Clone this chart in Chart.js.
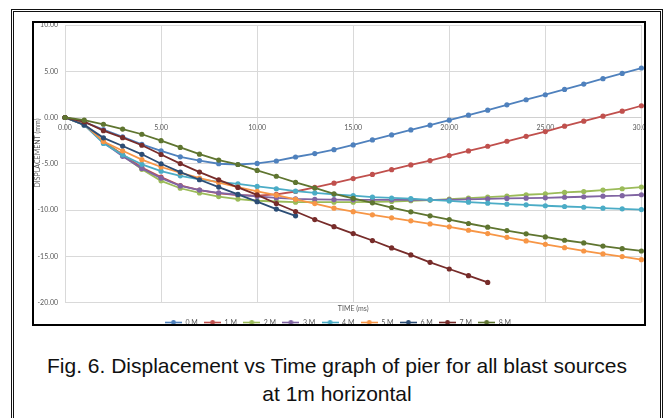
<!DOCTYPE html>
<html>
<head>
<meta charset="utf-8">
<script src="https://cdn.jsdelivr.net/npm/chart.js@4.4.0/dist/chart.umd.min.js"></script>
<style>
html,body{margin:0;padding:0;background:#fff;width:666px;height:418px;overflow:hidden;}
#outer{position:absolute;left:11px;top:9px;width:646px;height:440px;border:3px double #111;}
#frame{position:absolute;left:32px;top:21px;width:610px;height:301px;border:2px solid #000;z-index:2;pointer-events:none;}
#wrap{position:absolute;left:34px;top:21px;width:610px;height:315px;z-index:1;}
#caption{position:absolute;left:11px;width:652px;top:352px;text-align:center;font-family:"Liberation Sans",Arial,sans-serif;font-size:21px;line-height:28px;color:#111;}
</style>
</head>
<body>
<div id="outer"></div>
<div id="wrap"><canvas id="c" width="610" height="315"></canvas></div>
<div id="frame"></div>
<div id="caption">Fig. 6. Displacement vs Time graph of pier for all blast sources<br>at 1m horizontal</div>
<script>
// Time (ms)
const times = [0,1,2,3,4,5,6,7,8,9,10,11,12,13,14,15,16,17,18,19,20,21,22,23,24,25,26,27,28,29,30];
const xTicks = [0,5,10,15,20,25,30];
const yTicks = [-20,-15,-10,-5,0,5,10];
const seriesNames = ['0 M','1 M','2 M','3 M','4 M','5 M','6 M','7 M','8 M'];

// Displacement (mm)
const s0M = [0,-0.5,-1.3,-2.1,-2.9,-3.6,-4.25,-4.65,-5.0,-5.08,-4.96,-4.7,-4.27,-3.9,-3.48,-2.96,-2.42,-1.88,-1.34,-0.83,-0.29,0.25,0.79,1.37,1.92,2.46,3.04,3.61,4.2,4.77,5.35];
const s1M = [0,-0.7,-2.6,-4.0,-5.4,-6.45,-7.35,-7.85,-8.2,-8.4,-8.45,-8.3,-8.0,-7.55,-7.1,-6.6,-6.15,-5.64,-5.13,-4.66,-4.12,-3.61,-3.11,-2.57,-2.03,-1.52,-0.94,-0.4,0.14,0.68,1.27];
const s2M = [0,-0.8,-2.6,-4.1,-5.6,-6.85,-7.65,-8.15,-8.55,-8.82,-9.0,-9.08,-9.15,-9.15,-9.15,-9.15,-9.12,-9.08,-9.0,-8.93,-8.83,-8.72,-8.6,-8.5,-8.35,-8.25,-8.1,-8.0,-7.85,-7.7,-7.52];
const s3M = [0,-0.8,-2.7,-4.2,-5.5,-6.55,-7.4,-7.85,-8.15,-8.35,-8.53,-8.7,-8.8,-8.85,-8.87,-8.9,-8.9,-8.9,-8.9,-8.9,-8.9,-8.85,-8.8,-8.75,-8.72,-8.68,-8.62,-8.57,-8.5,-8.45,-8.35];
const s4M = [0,-0.8,-2.8,-4.05,-5.06,-5.8,-6.3,-6.69,-6.95,-7.18,-7.45,-7.7,-7.96,-8.15,-8.3,-8.45,-8.6,-8.7,-8.78,-8.9,-9.02,-9.15,-9.26,-9.37,-9.44,-9.54,-9.62,-9.7,-9.8,-9.87,-9.95];
const s5M = [0,-0.75,-2.6,-3.6,-4.56,-5.35,-5.97,-6.55,-7.05,-7.52,-7.98,-8.4,-8.85,-9.3,-9.8,-10.18,-10.52,-10.85,-11.17,-11.5,-11.82,-12.19,-12.55,-12.95,-13.34,-13.71,-14.07,-14.43,-14.75,-15.04,-15.37];
const s6M = [0,-0.8,-2.2,-3.08,-3.98,-5.0,-5.9,-6.73,-7.52,-8.32,-9.1,-9.9,-10.63];
const s7M = [0,-0.45,-1.42,-2.18,-3.0,-4.0,-4.98,-5.9,-6.74,-7.56,-8.37,-9.3,-10.16,-11.03,-11.8,-12.55,-13.3,-14.1,-14.86,-15.66,-16.38,-17.1,-17.83];
const s8M = [0,-0.29,-0.73,-1.25,-1.81,-2.5,-3.23,-3.96,-4.6,-5.08,-5.72,-6.35,-7.02,-7.62,-8.25,-8.75,-9.22,-9.73,-10.2,-10.63,-11.03,-11.46,-11.86,-12.22,-12.58,-12.91,-13.27,-13.56,-13.9,-14.18,-14.43];

const allSeries = [s0M,s1M,s2M,s3M,s4M,s5M,s6M,s7M,s8M];
const colors = ['#4F81BD','#C0504D','#9BBB59','#8064A2','#4BACC6','#F79646','#2C4D75','#772C2A','#5F7530'];

function legendIcon(color){
  const c = document.createElement('canvas');
  c.width = 17; c.height = 7;
  const g = c.getContext('2d');
  g.strokeStyle = color; g.lineWidth = 1.6;
  g.beginPath(); g.moveTo(0,3.5); g.lineTo(17,3.5); g.stroke();
  g.fillStyle = color; g.beginPath(); g.arc(8.5,3.5,2.4,0,Math.PI*2); g.fill();
  return c;
}
const icons = colors.map(legendIcon);

const datasets = allSeries.map((arr,i)=>({
  label: seriesNames[i],
  data: arr.map((v,k)=>({x: times[k], y: v})),
  borderColor: colors[i],
  backgroundColor: colors[i],
  borderWidth: 1.8,
  pointRadius: 2.6,
  pointBorderWidth: 0,
  pointHoverRadius: 2.6,
  tension: 0,
  order: 8 - i,
  clip: 5
}));

const txt = '#595959';
const tickFont = {family:'Lato', size:7};

const yTitlePlugin = {
  id:'yTitle',
  afterDraw(chart){
    const ctx = chart.ctx;
    ctx.save();
    ctx.translate(3.5, 153-21);
    ctx.rotate(-Math.PI/2);
    ctx.font = '7px Lato';
    ctx.fillStyle = txt;
    ctx.textAlign = 'center';
    ctx.textBaseline = 'middle';
    ctx.fillText('DISPLACEMENT (mm)', 0, 0);
    ctx.restore();
  }
};

new Chart(document.getElementById('c'), {
  type: 'line',
  data: { datasets },
  options: {
    responsive: false,
    animation: false,
    layout: { padding: { top: 4, right: 2, left: 0, bottom: 0 } },
    scales: {
      x: {
        type: 'linear', min: 0, max: 30,
        position: { y: 0 },
        afterFit(s){ s.height = 0; s.paddingLeft = 0; s.paddingRight = 0; },
        afterBuildTicks(s){ s.ticks = xTicks.map(v=>({value:v})); },
        grid: { color: '#d9d9d9', lineWidth: 1, drawTicks: false },
        border: { display: true, color: '#d0d0d0', width: 1 },
        ticks: { padding: 6, color: txt, font: tickFont, maxRotation: 0, autoSkip: false,
                 callback: v => Number(v).toFixed(2) }
      },
      y: {
        type: 'linear', min: -20, max: 10,
        afterFit(s){ s.width = 31; s.paddingTop = 0; s.paddingBottom = 0; },
        afterBuildTicks(s){ s.ticks = yTicks.map(v=>({value:v})); },
        grid: { color: '#d9d9d9', lineWidth: 1, drawTicks: false },
        border: { display: false },
        ticks: { padding: 7, color: txt, font: tickFont,
                 callback: v => Number(v).toFixed(2) }
      }
    },
    plugins: {
      tooltip: { enabled: false },
      title: {
        display: true, text: 'TIME (ms)', position: 'bottom', fullSize: false,
        color: txt, font: { family: 'Lato', size: 7, weight: 'normal', lineHeight: 1.2 },
        padding: { top: 1.8, bottom: 0 }
      },
      legend: {
        position: 'bottom', weight: 3000,
        labels: {
          usePointStyle: true, pointStyleWidth: 17, padding: 6.3,
          color: txt, font: tickFont,
          generateLabels(chart){
            return chart.data.datasets.map((ds,i)=>({
              text: ds.label, fillStyle: ds.backgroundColor, strokeStyle: ds.borderColor,
              lineWidth: 0, pointStyle: icons[i], datasetIndex: i, hidden: false, fontColor: txt
            }));
          }
        }
      }
    }
  },
  plugins: [yTitlePlugin]
});
</script>
</body>
</html>
